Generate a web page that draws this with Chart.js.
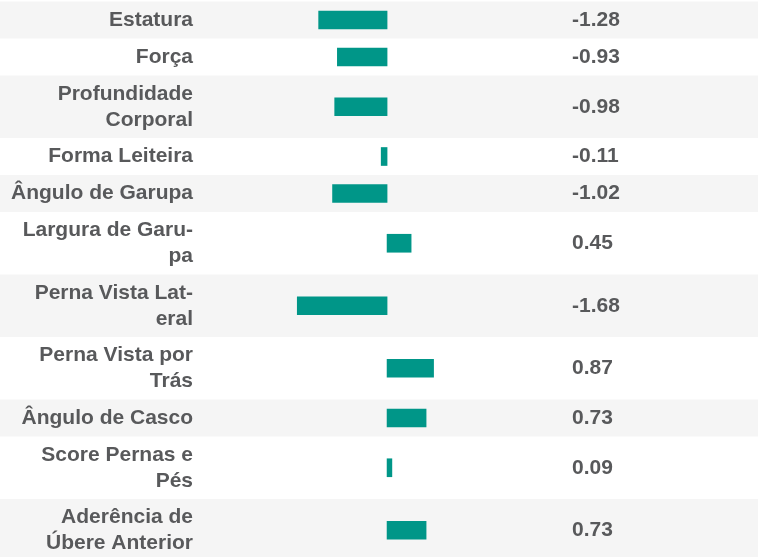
<!DOCTYPE html>
<html><head><meta charset="utf-8">
<script src="https://cdn.jsdelivr.net/npm/chart.js@4"></script>
<style>html,body{margin:0;padding:0;background:#fff}#wrap{width:758px;height:557px;position:relative}</style>
</head><body><div id="wrap"><canvas id="c"></canvas></div>
<script>
// ---- data ----
const categories = [
  ['Estatura'],
  ['Força'],
  ['Profundidade', 'Corporal'],
  ['Forma Leiteira'],
  ['Ângulo de Garupa'],
  ['Largura de Garu-', 'pa'],
  ['Perna Vista Lat-', 'eral'],
  ['Perna Vista por', 'Trás'],
  ['Ângulo de Casco'],
  ['Score Pernas e', 'Pés'],
  ['Aderência de', 'Úbere Anterior']
];
const values = [-1.28, -0.93, -0.98, -0.11, -1.02, 0.45, -1.68, 0.87, 0.73, 0.09, 0.73];

// ---- layout (row heights depend on number of label lines) ----
const TOP = 1.5, H1 = 37, H2 = 62.5;
const bounds = [];
let acc = TOP;
categories.forEach(c => { const h = c.length > 1 ? H2 : H1; bounds.push([acc, acc + h]); acc += h; });
const centers = bounds.map(b => (b[0] + b[1]) / 2);

const TEXT = '#58595b';
const BAR = '#009688';
const ROW = '#f5f5f5';
const FONT = { family: "'Liberation Sans', Arial, sans-serif", size: 21, weight: 'bold', lineHeight: 1.24 };

const rowsPlugin = {
  id: 'rows',
  beforeDraw(chart) {
    const ctx = chart.ctx, ys = chart.scales.y;
    ctx.save();
    ctx.fillStyle = '#ffffff';
    ctx.fillRect(0, 0, chart.width, chart.height);
    bounds.forEach((b, i) => {
      if (i % 2 === 0) {
        const t = ys.getPixelForValue(b[0]), bt = ys.getPixelForValue(b[1]);
        ctx.fillStyle = ROW;
        ctx.fillRect(0, t, chart.width, bt - t);
      }
    });
    ctx.restore();
  }
};

function noPad(s) { s.paddingTop = 0; s.paddingBottom = 0; s.paddingLeft = 0; s.paddingRight = 0; }

new Chart(document.getElementById('c'), {
  type: 'bar',
  data: {
    datasets: [{
      data: values.map((v, i) => ({ x: v, y: centers[i] })),
      backgroundColor: BAR,
      borderWidth: 0,
      barThickness: 18
    }]
  },
  plugins: [rowsPlugin],
  options: {
    responsive: true,
    maintainAspectRatio: false,
    animation: false,
    indexAxis: 'y',
    layout: { padding: 0 },
    plugins: { legend: { display: false }, tooltip: { enabled: false } },
    scales: {
      x: { type: 'linear', min: -3.5, max: 3.46, display: false, offset: false },
      y: {
        type: 'linear', position: 'left', reverse: true, min: 0, max: 557, bounds: 'data', offset: false,
        grid: { display: false, drawTicks: false, offset: false }, border: { display: false },
        afterBuildTicks: s => { s.ticks = centers.map(v => ({ value: v })); },
        afterFit: s => { s.width = 200; noPad(s); },
        ticks: { autoSkip: false, padding: 7, color: TEXT, font: FONT, callback: (v, i) => categories[i] }
      },
      y2: {
        type: 'linear', position: 'right', reverse: true, min: 0, max: 557, bounds: 'data', offset: false,
        grid: { display: false, drawTicks: false, offset: false }, border: { display: false },
        afterBuildTicks: s => { s.ticks = centers.map(v => ({ value: v })); },
        afterFit: s => { s.width = 186; noPad(s); },
        ticks: { autoSkip: false, padding: 0, color: TEXT, font: FONT, callback: (v, i) => values[i].toFixed(2) }
      }
    }
  }
});
</script>
</body></html>
